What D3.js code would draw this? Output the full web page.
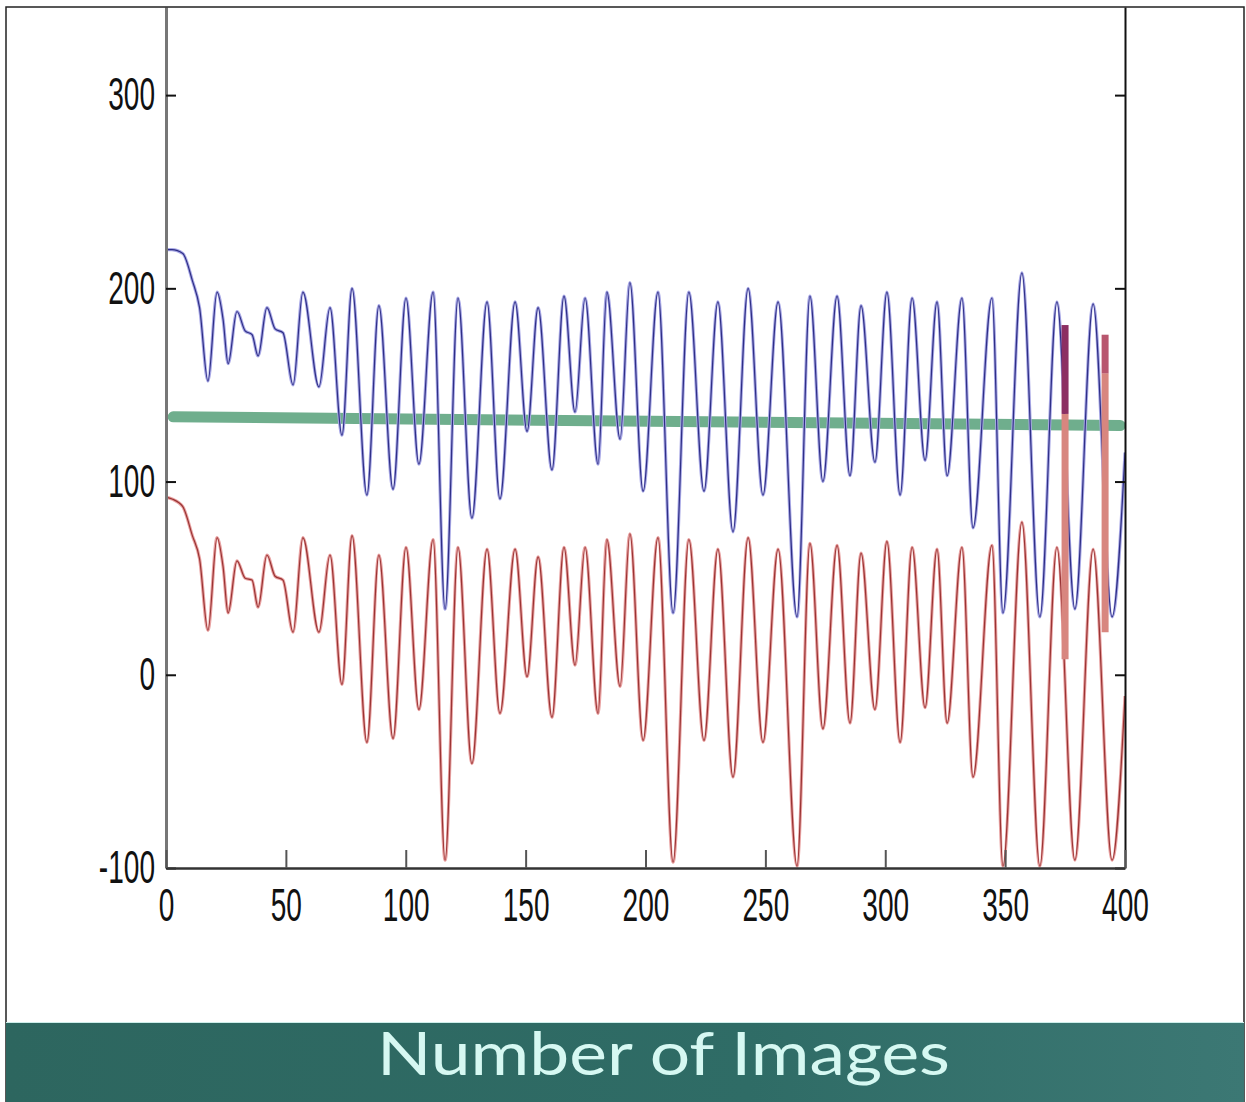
<!DOCTYPE html>
<html>
<head>
<meta charset="utf-8">
<script src="https://cdnjs.cloudflare.com/ajax/libs/d3/7.8.5/d3.min.js"></script>
<style>
  body { margin: 0; background: #fff; }
</style>
</head>
<body>
<script>

    // image index along the sequence (x axis)
    var frames = [0, 2.5, 7, 11, 14, 17.5, 21.3, 23.8, 25.9, 29.6,
        33, 35.9, 38.4, 42.1, 45.5, 48.8, 53, 57.1, 63.8, 68.4,
        73.4, 77.6, 83.8, 88.8, 94.7, 100.1, 105.5, 111.4, 116.4, 121.8,
        127.6, 133.9, 139.3, 145.6, 150.6, 155.2, 161, 166, 170.6, 174.8,
        180.2, 183.9, 189.4, 193.5, 199, 205.2, 211.5, 218.1, 224.4, 230.2,
        236.5, 242.8, 249, 255.3, 263.2, 268.6, 274, 279.9, 285.3, 289.9,
        295.7, 300.7, 306.2, 311.2, 316.6, 321.6, 325.8, 332, 336.6, 344.5,
        349.1, 357, 364.5, 371.6, 379.1, 386.7, 394.6, 400];

    // blue curve
    var upperSeries = [220, 220, 218, 204, 190, 152, 198, 184, 161, 188,
        178, 176, 165, 190, 179, 177, 150, 198, 149, 190,
        124, 200, 93, 191, 96, 195, 109, 198, 34, 195,
        81, 193, 91, 193, 126, 190, 106, 196, 136, 195,
        109, 198, 122, 203, 95, 198, 32, 198, 95, 193,
        74, 200, 93, 193, 30, 196, 100, 196, 103, 191,
        110, 198, 93, 195, 111, 193, 103, 195, 76, 195,
        32, 208, 30, 193, 34, 192, 30, 115];

    // red curve
    var lowerSeries = [92, 91, 87, 72, 60, 23, 71, 56, 32, 59,
        50, 49, 35, 62, 51, 49, 22, 71, 22, 62,
        -5, 72, -35, 62, -33, 66, -18, 70, -96, 66,
        -46, 65, -20, 65, -1, 61, -22, 66, 5, 66,
        -20, 70, -6, 73, -34, 71, -97, 70, -34, 65,
        -53, 71, -35, 65, -99, 68, -28, 67, -25, 63,
        -18, 69, -35, 66, -17, 65, -25, 66, -53, 67,
        -99, 79, -99, 66, -96, 65, -96, -11];

    // thick green reference line
    var baselineFrames = [3, 398];
    var baselineValues = [133.5, 129];

    // thick marks near the end
    var markFrames = [375, 391.7];
    var markTop = [181, 176];
    var markMid = [135, 156];
    var markBottom = [8, 22];

    var xTicks = [0, 50, 100, 150, 200, 250, 300, 350, 400];
    var yTicks = [-100, 0, 100, 200, 300];

    var W = 1246, H = 1102;
    var plot = {left: 166, right: 1125, top: 7, bottom: 868};

    var svg = d3.select("body")
    .append("svg")
    .attr("width", W)
    .attr("height", H);

    svg.append("rect").attr("width", W).attr("height", H).attr("fill", "#fff");

    var x = d3.scaleLinear()
    .domain([0, 400])
    .range([plot.left, plot.right]);

    var y = d3.scaleLinear()
    .domain([-100, 345.6])
    .range([plot.bottom, plot.top]);

    svg.append("clipPath").attr("id", "clip")
    .append("rect")
    .attr("x", plot.left).attr("y", plot.top)
    .attr("width", plot.right - plot.left)
    .attr("height", plot.bottom - plot.top);

    var plotArea = svg.append("g").attr("clip-path", "url(#clip)");

    // green reference line (under the curves)
    var baseline = baselineFrames.map(function(f, i) { return {f: f, v: baselineValues[i]}; });
    plotArea.append("path")
    .datum(baseline)
    .attr("fill", "none")
    .attr("stroke", "#6fae8d")
    .attr("stroke-width", 11)
    .attr("stroke-linecap", "round")
    .attr("d", d3.line().x(function(d) { return x(d.f); }).y(function(d) { return y(d.v); }));

    var line = d3.line()
    .x(function(d) { return x(d.f); })
    .y(function(d) { return y(d.v); })
    .curve(d3.curveMonotoneX);

    function drawSeries(values, halo, core) {
        var pts = frames.map(function(f, i) { return {f: f, v: values[i]}; });
        plotArea.append("path").datum(pts)
        .attr("fill", "none").attr("stroke", halo).attr("stroke-width", 3.2)
        .attr("stroke-linejoin", "round").attr("d", line);
        plotArea.append("path").datum(pts)
        .attr("fill", "none").attr("stroke", core).attr("stroke-width", 1.2)
        .attr("stroke-linejoin", "round").attr("d", line);
    }

    drawSeries(upperSeries, "#a9a9e6", "#2f2f86");
    drawSeries(lowerSeries, "#e9a3a3", "#9a3434");

    // thick marks
    markFrames.forEach(function(f, i) {
        plotArea.append("line")
        .attr("x1", x(f)).attr("x2", x(f))
        .attr("y1", y(markMid[i])).attr("y2", y(markBottom[i]))
        .attr("stroke", "#d8867f").attr("stroke-width", 7);
        plotArea.append("line")
        .attr("x1", x(f)).attr("x2", x(f))
        .attr("y1", y(markTop[i])).attr("y2", y(markMid[i]))
        .attr("stroke", i == 0 ? "#8c2f62" : "#b8566e").attr("stroke-width", 7);
    });

    // axes
    var yAxis = d3.axisLeft(y).tickValues(yTicks).tickSize(-10).tickSizeOuter(0)
    .tickFormat(function(d) { return String(d); });
    var yRight = d3.axisRight(y).tickValues(yTicks).tickSize(-10).tickSizeOuter(0).tickFormat("");
    var xAxis = d3.axisBottom(x).tickValues(xTicks).tickSize(-18).tickSizeOuter(0).tickPadding(20);

    var gy = svg.append("g")
    .attr("transform", "translate(" + plot.left + ",0)")
    .call(yAxis);
    gy.select(".domain").attr("stroke", "#777").attr("stroke-width", 3);
    gy.selectAll(".tick line").attr("stroke", "#111").attr("stroke-width", 2);

    var gr = svg.append("g")
    .attr("transform", "translate(" + plot.right + ",0)")
    .call(yRight);
    gr.select(".domain").attr("stroke", "#111").attr("stroke-width", 2);
    gr.selectAll(".tick line").attr("stroke", "#111").attr("stroke-width", 2);

    var gx = svg.append("g")
    .attr("transform", "translate(0," + plot.bottom + ")")
    .call(xAxis);
    gx.select(".domain").attr("stroke", "#333").attr("stroke-width", 2.5);
    gx.selectAll(".tick line").attr("stroke", "#555").attr("stroke-width", 2);

    // narrow matlab-like tick labels
    svg.selectAll(".tick text")
    .attr("font-family", "'Liberation Sans', Arial, sans-serif")
    .attr("font-size", 46)
    .attr("fill", "#111");
    gy.selectAll(".tick text")
    .attr("x", -18)
    .attr("transform", "scale(0.61,1)");
    gx.selectAll(".tick text")
    .attr("transform", "scale(0.61,1)");

    // outer frame
    svg.append("path")
    .attr("d", "M6," + H + "V7H1244V" + H)
    .attr("fill", "none")
    .attr("stroke", "#222")
    .attr("stroke-width", 1.5);

    // banner
    var grad = svg.append("defs").append("linearGradient").attr("id", "band");
    grad.append("stop").attr("offset", "0%").attr("stop-color", "#2d665f");
    grad.append("stop").attr("offset", "60%").attr("stop-color", "#2f6c66");
    grad.append("stop").attr("offset", "100%").attr("stop-color", "#3c7874");

    svg.append("rect")
    .attr("x", 6).attr("y", 1022)
    .attr("width", 1238).attr("height", H - 1022)
    .attr("fill", "url(#band)");
    svg.append("line")
    .attr("x1", 6).attr("x2", 1244).attr("y1", 1022.5).attr("y2", 1022.5)
    .attr("stroke", "#cdeeea").attr("stroke-width", 1);

    svg.append("text")
    .attr("x", 377).attr("y", 1075)
    .attr("textLength", 573)
    .attr("lengthAdjust", "spacingAndGlyphs")
    .attr("font-family", "Lato, 'Open Sans', sans-serif")
    .attr("font-weight", 400)
    .attr("font-size", 60)
    .attr("fill", "#d6f8f2")
    .text("Number of Images");

    </script>
</body>
</html>
